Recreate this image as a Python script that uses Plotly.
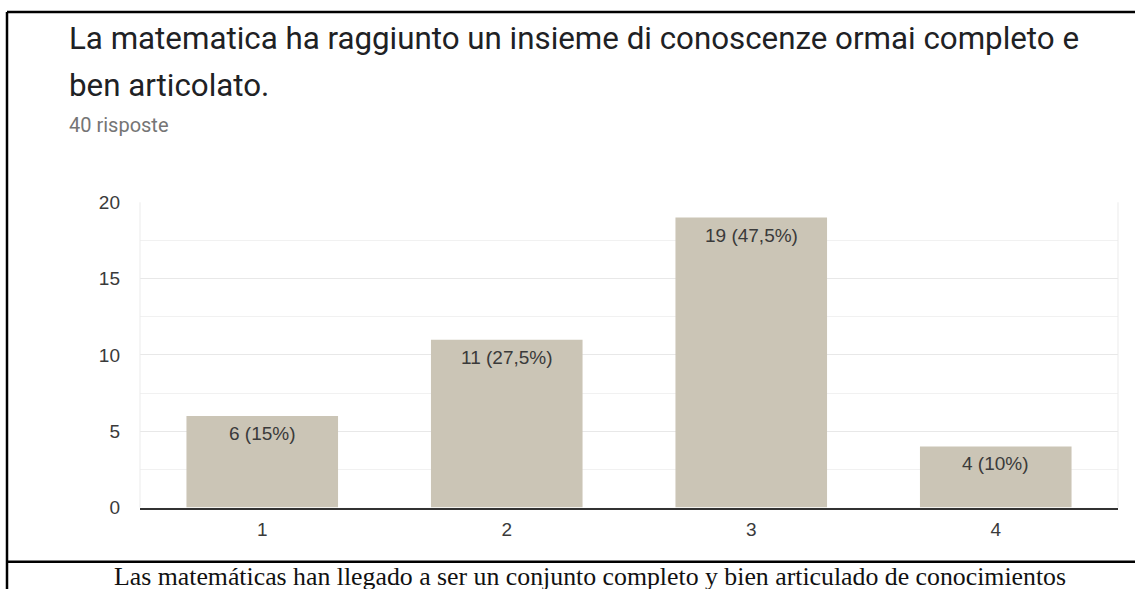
import plotly.graph_objects as go

# Survey answers (scale 1-4) and number of responses for each
categories = ["1", "2", "3", "4"]
counts = [6, 11, 19, 4]
total_responses = 40

title_line1 = "La matematica ha raggiunto un insieme di conoscenze ormai completo e"
title_line2 = "ben articolato."
subtitle = "40 risposte"
caption = "Las matemáticas han llegado a ser un conjunto completo y bien articulado de conocimientos"

W, H = 1135, 620


def fx(px):
    return px / W


def fy(px):
    # pixel offset from the top -> paper fraction
    return 1 - px / H


def pct_label(n, tot):
    p = n / tot * 100
    s = f"{p:.1f}".rstrip("0").rstrip(".").replace(".", ",")
    return f"{n} ({s}%)"


labels = [pct_label(c, total_responses) for c in counts]

AXIS_FONT = dict(family="Liberation Sans, Arial", size=19, color="#3a3a3a")

fig = go.Figure(
    go.Bar(
        x=categories,
        y=counts,
        marker=dict(color="#cbc5b6", line=dict(width=0)),
        hoverinfo="skip",
    )
)

# plot area (pixels)
px_left, px_right, px_top, px_bottom = 140, 1118, 199, 515

fig.update_layout(
    width=W,
    height=H,
    margin=dict(l=0, r=0, t=0, b=0),
    paper_bgcolor="white",
    plot_bgcolor="white",
    bargap=0.38,
    showlegend=False,
    xaxis=dict(
        domain=[fx(px_left), fx(px_right)],
        type="category",
        categoryorder="array",
        categoryarray=categories,
        showgrid=False,
        showline=True,
        linecolor="#333333",
        linewidth=1.5,
        ticks="",
        ticklabelstandoff=4,
        tickfont=AXIS_FONT,
        fixedrange=True,
    ),
    yaxis=dict(
        domain=[fy(px_bottom), fy(px_top)],
        range=[0, 20],
        dtick=5,
        tick0=0,
        showgrid=True,
        gridcolor="#e8e8e8",
        gridwidth=1,
        zeroline=False,
        showline=False,
        ticks="",
        ticklabelstandoff=19,
        tickfont=AXIS_FONT,
        minor=dict(dtick=2.5, showgrid=True, gridcolor="#f1f1f1", gridwidth=1),
        fixedrange=True,
    ),
)

shapes = [
    # light frame on the left and right of the plotting area
    dict(type="line", xref="x domain", yref="y domain", x0=0, x1=0, y0=0, y1=1,
         line=dict(color="#ebebeb", width=1)),
    dict(type="line", xref="x domain", yref="y domain", x0=1, x1=1, y0=0, y1=1,
         line=dict(color="#ebebeb", width=1)),
    # table cell borders
    dict(type="line", xref="paper", yref="paper", x0=fx(7), x1=1, y0=fy(2), y1=fy(2),
         line=dict(color="black", width=2.5)),
    dict(type="line", xref="paper", yref="paper", x0=fx(7), x1=fx(7), y0=0, y1=fy(2),
         line=dict(color="black", width=2.5)),
    dict(type="line", xref="paper", yref="paper", x0=fx(7), x1=1, y0=fy(571), y1=fy(571),
         line=dict(color="black", width=2.5)),
]
fig.update_layout(shapes=shapes)

annotations = [
    dict(text=title_line1, x=fx(67), y=fy(29), xanchor="left", yanchor="middle",
         xref="paper", yref="paper", showarrow=False,
         font=dict(family="Roboto", size=31.3, color="#202124")),
    dict(text=title_line2, x=fx(67), y=fy(78), xanchor="left", yanchor="middle",
         xref="paper", yref="paper", showarrow=False,
         font=dict(family="Roboto", size=31.3, color="#202124")),
    dict(text=subtitle, x=fx(67), y=fy(119), xanchor="left", yanchor="middle",
         xref="paper", yref="paper", showarrow=False,
         font=dict(family="Roboto", size=20, color="#757575")),
    dict(text=caption, x=fx(590), y=fy(586), xanchor="center", yanchor="middle",
         xref="paper", yref="paper", showarrow=False,
         font=dict(family="Liberation Serif, Times New Roman", size=25.8, color="#111111")),
]

# value labels just inside the top of each bar (category axis positions are indices)
for i, (n, lab) in enumerate(zip(counts, labels)):
    annotations.append(
        dict(text=lab, x=i, y=n, xref="x", yref="y", xanchor="center", yanchor="top",
             yshift=-5, showarrow=False, font=AXIS_FONT)
    )

fig.update_layout(annotations=annotations)

fig.write_html("out.html", config={"displayModeBar": False})
